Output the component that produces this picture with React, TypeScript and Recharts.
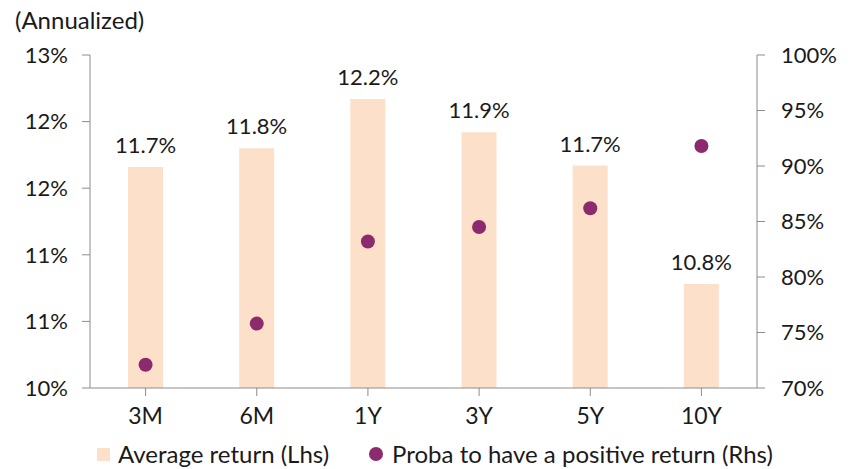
import { Bar, ComposedChart, LabelList, Line, XAxis, YAxis } from "recharts";

const horizons = ["3M", "6M", "1Y", "3Y", "5Y", "10Y"];
const avgReturn = [11.66, 11.8, 12.17, 11.92, 11.67, 10.78];
const probaPositive = [72.1, 75.8, 83.2, 84.5, 86.2, 91.8];
const leftTicks = [10, 10.5, 11, 11.5, 12, 12.5];
const rightTicks = [70, 75, 80, 85, 90, 95, 100];

const data = horizons.map((h, i) => ({ h, avg: avgReturn[i], proba: probaPositive[i] }));

const FONT = "Lato, 'Open Sans', sans-serif";
const AXIS = "#8c8c8c";
const BAR = "#fde0ca";
const DOT = "#8b2a6c";
const tick = { fontSize: 22, fill: "#1a1a1a", fontFamily: FONT };

export default function App() {
  return (
    <div style={{ position: "absolute", left: 0, top: 0, width: 851, height: 469, background: "#fff", fontFamily: FONT }}>
      <div style={{ position: "absolute", left: 15, top: 5, fontSize: 24, color: "#1a1a1a" }}>(Annualized)</div>
      <ComposedChart width={851} height={469} data={data} margin={{ top: 55, right: 24, left: 30, bottom: 41 }}>
        <XAxis
          dataKey="h"
          height={40}
          tick={{ ...tick, fontSize: 23 }}
          stroke={AXIS}
          tickSize={8}
          tickMargin={12}
          interval={0}
        />
        <YAxis
          yAxisId="l"
          width={60}
          domain={[10, 12.5]}
          ticks={leftTicks}
          tickFormatter={(v) => `${Math.round(Number(v))}%`}
          tick={tick}
          stroke={AXIS}
          tickSize={8}
          tickMargin={14}
          interval={0}
        />
        <YAxis
          yAxisId="r"
          orientation="right"
          width={70}
          domain={[70, 100]}
          ticks={rightTicks}
          tickFormatter={(v) => `${v}%`}
          tick={{ ...tick, textAnchor: "start" }}
          stroke={AXIS}
          tickSize={8}
          tickMargin={16}
          interval={0}
        />
        <Bar yAxisId="l" dataKey="avg" fill={BAR} barSize={35} isAnimationActive={false}>
          <LabelList
            dataKey="avg"
            position="top"
            offset={14}
            formatter={(v: any) => `${Number(v).toFixed(1)}%`}
            style={{ fontSize: 22, fill: "#1a1a1a", fontFamily: FONT }}
          />
        </Bar>
        <Line
          yAxisId="r"
          dataKey="proba"
          stroke="none"
          dot={{ r: 7, fill: DOT, stroke: DOT, strokeWidth: 0 }}
          activeDot={false}
          isAnimationActive={false}
        />
      </ComposedChart>
      <div style={{ position: "absolute", top: 441, left: 97, height: 26, lineHeight: "26px", display: "flex", alignItems: "center", fontSize: 24, color: "#1a1a1a", whiteSpace: "nowrap" }}>
        <span style={{ width: 13, height: 13, background: BAR, display: "inline-block", marginRight: 8 }} />
        <span>Average return (Lhs)</span>
        <span style={{ width: 14, height: 14, borderRadius: 7, background: DOT, display: "inline-block", marginLeft: 40, marginRight: 9 }} />
        <span>Proba to have a positive return (Rhs)</span>
      </div>
    </div>
  );
}
